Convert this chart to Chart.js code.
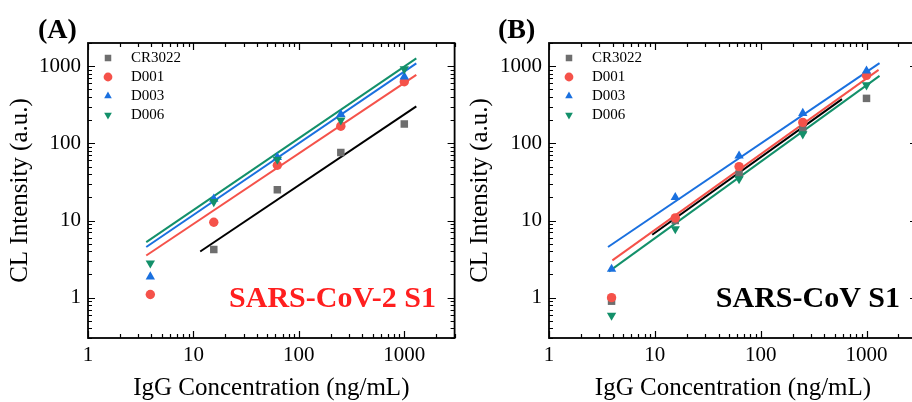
<!DOCTYPE html>
<html>
<head>
<meta charset="utf-8">
<script src="https://cdn.jsdelivr.net/npm/chart.js@4.4.1/dist/chart.umd.min.js"></script>
<style>
  html, body { margin: 0; padding: 0; background: #fff; }
  body { width: 912px; height: 402px; overflow: hidden; position: relative; }
  .panel { position: absolute; top: 0; }
</style>
</head>
<body>
<div class="panel" style="left:0px"><canvas id="chartA" width="460" height="402"></canvas></div>
<div class="panel" style="left:460px"><canvas id="chartB" width="470" height="402"></canvas></div>
<script>
// IgG concentrations (ng/mL)
const conc = [3.9, 15.6, 62.5, 250, 1000];
const seriesNames = ['CR3022', 'D001', 'D003', 'D006'];
const pointColors = ['#6e6e6e', '#f5524a', '#1a70df', '#13906a'];
const fitColors = ['#000000', '#f5524a', '#1a70df', '#13906a'];
const pointStyles = ['rect', 'circle', 'triangle', 'triangle'];
const pointRotations = [0, 0, 0, 180];

// (A) SARS-CoV-2 S1
const aCR3022 = [null, 4.2, 25, 76, 178];
const aD001 = [1.1, 9.5, 52, 167, 630];
const aD003 = [1.87, 19, 66, 238, 730];
const aD006 = [2.8, 17.5, 62, 200, 920];
// fit lines: start/end x, start/end y
const aFitX = [[11.6, 1300], [3.57, 1300], [3.57, 1300], [3.57, 1300]];
const aFitY = [[3.97, 302], [3.52, 774], [4.53, 1087], [5.25, 1262]];

// (B) SARS-CoV S1
const bCR3022 = [0.9, 10, 40, 150, 383];
const bD001 = [1.0, 10.8, 50, 187, 760];
const bD003 = [2.35, 20, 69, 246, 870];
const bD006 = [0.59, 7.8, 34.7, 132, 570];
const bFitX = [[9.45, 587], [3.97, 1300], [3.61, 1328], [3.69, 1328]];
const bFitY = [[6.53, 375], [3.04, 898], [4.53, 1097], [2.19, 751]];

// axis ticks
const xMajor = [1, 10, 100, 1000];
const xMinor = [2, 3, 4, 5, 6, 7, 8, 9, 20, 30, 40, 50, 60, 70, 80, 90,
                200, 300, 400, 500, 600, 700, 800, 900, 2000, 3000];
const yMajor = [1, 10, 100, 1000];
const yMinor = [0.3, 0.4, 0.5, 0.6, 0.7, 0.8, 0.9, 2, 3, 4, 5, 6, 7, 8, 9,
                20, 30, 40, 50, 60, 70, 80, 90, 200, 300, 400, 500, 600, 700, 800, 900, 2000];

const serif = "'Liberation Serif', 'Times New Roman', serif";

// frame with inward ticks on all four sides + panel label + note
const framePlugin = {
    id: 'frame',
    afterDraw(chart, args, opts) {
        const ctx = chart.ctx;
        const a = chart.chartArea;
        const x = chart.scales.x, y = chart.scales.y;
        ctx.save();
        ctx.strokeStyle = '#000';
        ctx.lineWidth = 1.2;
        ctx.beginPath();
        function xt(list, len) {
            list.forEach(function(v) {
                const px = Math.round(x.getPixelForValue(v)) + 0.5;
                ctx.moveTo(px, a.bottom); ctx.lineTo(px, a.bottom - len);
                ctx.moveTo(px, a.top); ctx.lineTo(px, a.top + len);
            });
        }
        function yt(list, len) {
            list.forEach(function(v) {
                const py = Math.round(y.getPixelForValue(v)) + 0.5;
                ctx.moveTo(a.left, py); ctx.lineTo(a.left + len, py);
                ctx.moveTo(a.right, py); ctx.lineTo(a.right - len, py);
            });
        }
        xt(xMajor, 7); xt(xMinor, 4);
        yt(yMajor, 7); yt(yMinor, 4);
        ctx.stroke();
        ctx.lineWidth = 1.8;
        ctx.strokeRect(a.left, a.top, a.right - a.left, a.bottom - a.top);

        // panel label
        ctx.fillStyle = '#000';
        ctx.font = 'bold 28px ' + serif;
        ctx.textBaseline = 'alphabetic';
        ctx.textAlign = 'left';
        ctx.fillText(opts.panel, opts.panelX, 37.5);

        // note
        ctx.fillStyle = opts.noteColor;
        ctx.font = 'bold 30px ' + serif;
        ctx.textAlign = 'right';
        ctx.fillText(opts.note, opts.noteRight, 306.5);
        ctx.restore();
    }
};

// legend inside the plot, top-left
const insideLegend = {
    id: 'insideLegend',
    afterDraw(chart) {
        const ctx = chart.ctx;
        const a = chart.chartArea;
        ctx.save();
        const rows = [58, 77, 96, 115];
        seriesNames.forEach(function(name, i) {
            ctx.fillStyle = pointColors[i];
            Chart.helpers.drawPoint(ctx, {
                pointStyle: pointStyles[i],
                rotation: pointRotations[i],
                radius: pointStyles[i] === 'rect' ? 4.6 : 4.4,
                borderWidth: 0
            }, a.left + 20, rows[i]);
            ctx.fillStyle = '#000';
            ctx.font = '15px ' + serif;
            ctx.textAlign = 'left';
            ctx.textBaseline = 'middle';
            ctx.fillText(name, a.left + 43, rows[i] + 0.5);
        });
        ctx.restore();
    }
};

function makePanel(id, values, fitX, fitY, leftWidth, rightPad, frameOpts) {
    const datasets = [];
    values.forEach(function(vals, i) {
        datasets.push({
            type: 'scatter',
            label: seriesNames[i],
            data: conc.map(function(c, k) { return {x: c, y: vals[k]}; }).filter(function(p) { return p.y !== null; }),
            backgroundColor: pointColors[i],
            borderWidth: 0,
            pointStyle: pointStyles[i],
            rotation: pointRotations[i],
            pointRadius: pointStyles[i] === 'rect' ? 5.3 : (pointStyles[i] === 'circle' ? 4.7 : 5.4),
            order: 4 - i
        });
    });
    fitX.forEach(function(fx, i) {
        datasets.push({
            type: 'line',
            label: seriesNames[i] + ' fit',
            data: [{x: fx[0], y: fitY[i][0]}, {x: fx[1], y: fitY[i][1]}],
            borderColor: fitColors[i],
            borderWidth: 2,
            pointRadius: 0,
            fill: false,
            order: 10 + i
        });
    });

    return new Chart(document.getElementById(id), {
        data: { datasets: datasets },
        options: {
            responsive: false,
            animation: false,
            devicePixelRatio: 1,
            layout: { padding: { top: 43, right: rightPad, left: 0, bottom: 0 } },
            plugins: {
                legend: { display: false },
                tooltip: { enabled: false },
                frame: frameOpts
            },
            scales: {
                x: {
                    type: 'logarithmic',
                    position: 'bottom',
                    min: 1,
                    max: 3000,
                    bounds: 'data',
                    grid: { display: false, drawTicks: false },
                    border: { display: false },
                    afterBuildTicks: function(s) { s.ticks = xMajor.map(function(v) { return {value: v}; }); },
                    afterFit: function(s) { s.height = 64; },
                    ticks: {
                        autoSkip: false, maxRotation: 0, padding: 5,
                        color: '#000',
                        font: { family: serif, size: 21 },
                        callback: function(v) { return String(v); }
                    },
                    title: {
                        display: true,
                        text: 'IgG Concentration (ng/mL)',
                        color: '#000',
                        font: { family: serif, size: 25, lineHeight: 1 },
                        padding: { top: 0, bottom: 1.5 }
                    }
                },
                y: {
                    type: 'logarithmic',
                    position: 'left',
                    min: 0.3,
                    max: 2000,
                    bounds: 'data',
                    grid: { display: false, drawTicks: false },
                    border: { display: false },
                    afterBuildTicks: function(s) { s.ticks = yMajor.map(function(v) { return {value: v}; }); },
                    afterFit: function(s) { s.width = leftWidth; },
                    ticks: {
                        autoSkip: false, padding: 7,
                        color: '#000',
                        font: { family: serif, size: 21 },
                        callback: function(v) { return String(v); }
                    },
                    title: {
                        display: true,
                        text: 'CL Intensity (a.u.)',
                        color: '#000',
                        font: { family: serif, size: 25, lineHeight: 1 },
                        padding: { top: 7.5, bottom: 0 }
                    }
                }
            }
        },
        plugins: [framePlugin, insideLegend]
    });
}

makePanel('chartA', [aCR3022, aD001, aD003, aD006], aFitX, aFitY, 88, 4,
    { panel: '(A)', panelX: 38, note: 'SARS-CoV-2 S1', noteColor: '#ff1f1f', noteRight: 436 });
makePanel('chartB', [bCR3022, bD001, bD003, bD006], bFitX, bFitY, 89, 13,
    { panel: '(B)', panelX: 38, note: 'SARS-CoV S1', noteColor: '#000000', noteRight: 440 });
</script>
</body>
</html>
